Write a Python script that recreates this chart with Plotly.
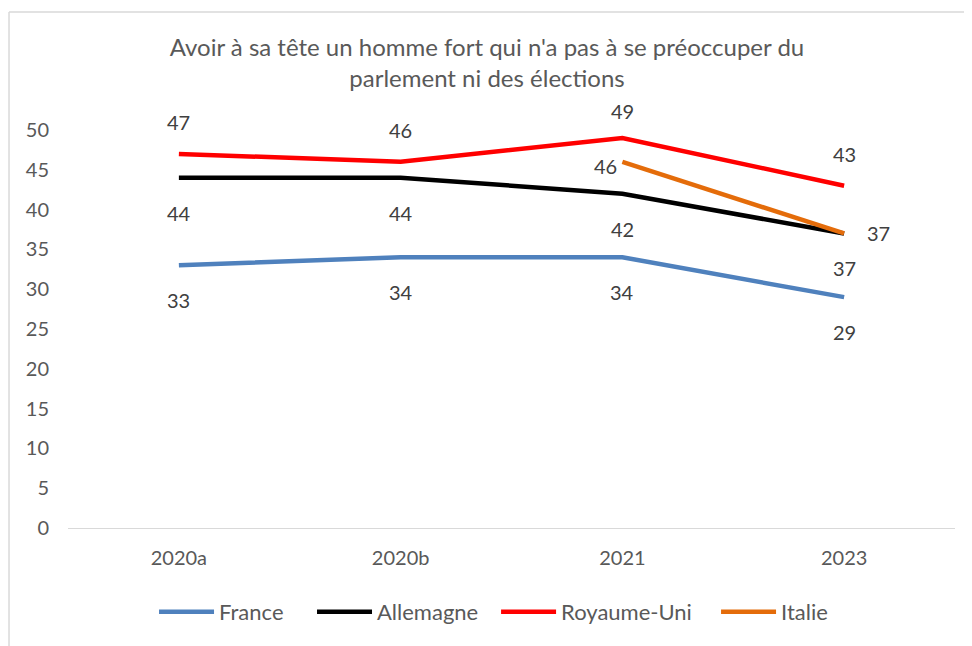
import plotly.graph_objects as go

categories = ["2020a", "2020b", "2021", "2023"]
france = [33, 34, 34, 29]
allemagne = [44, 44, 42, 37]
royaume_uni = [47, 46, 49, 43]
italie = [None, None, 46, 37]
y_ticks = [0, 5, 10, 15, 20, 25, 30, 35, 40, 45, 50]

title_text = "Avoir à sa tête un homme fort qui n'a pas à se préoccuper du<br>parlement ni des élections"

FONT = "Lato, 'Noto Sans', sans-serif"
TXT = "#595959"

series = [
    ("France", france, "#4F81BD"),
    ("Allemagne", allemagne, "#000000"),
    ("Royaume-Uni", royaume_uni, "#FF0000"),
    ("Italie", italie, "#E46C0A"),
]
legend_ids = ["legend", "legend2", "legend3", "legend4"]
legend_x = [0.0970, 0.2751, 0.4826, 0.7306]

fig = go.Figure()
for (name, vals, col), lid in zip(series, legend_ids):
    fig.add_trace(go.Scatter(x=categories, y=vals, name=name, mode="lines",
                             line=dict(color=col, width=4.5), connectgaps=False,
                             legend=lid))

label_offsets = {
    "France": (0, -35),
    "Allemagne": (0, -35),
    "Royaume-Uni": (0, 32),
}
annotations = []
for name, vals, col in series:
    for i, v in enumerate(vals):
        if v is None:
            continue
        if name == "Italie":
            xs, ys = (-17, -4) if i == 2 else (34, 0)
        elif name == "Royaume-Uni" and i == 2:
            xs, ys = (0, 27)
        else:
            xs, ys = label_offsets[name]
        annotations.append(dict(x=i, y=v, xref="x", yref="y", text=str(v),
                                showarrow=False, xshift=xs, yshift=ys,
                                font=dict(family=FONT, size=20, color="#404040")))

legend_common = dict(orientation="h", xanchor="left", y=-0.211, yanchor="middle",
                     font=dict(size=22, color=TXT, family=FONT), itemwidth=55,
                     bgcolor="rgba(0,0,0,0)")

fig.update_layout(
    width=972, height=646,
    margin=dict(l=60, r=25, t=122, b=126),
    paper_bgcolor="white", plot_bgcolor="white",
    font=dict(family=FONT, color=TXT, size=20),
    title=dict(text=title_text, x=0.4928, xanchor="center", y=0.926, yanchor="middle",
               font=dict(family=FONT, size=24, color=TXT)),
    xaxis=dict(type="category", range=[-0.5, 3.5], showline=True, linecolor="#d9d9d9",
               linewidth=1, showgrid=False, ticks="", ticklabelstandoff=12,
               tickfont=dict(size=20, color=TXT)),
    yaxis=dict(range=[0, 50], tickvals=y_ticks, showgrid=False, zeroline=False,
               showline=False, ticks="", ticklabelstandoff=18,
               tickfont=dict(size=20, color=TXT)),
    legend=dict(x=legend_x[0], **legend_common),
    legend2=dict(x=legend_x[1], **legend_common),
    legend3=dict(x=legend_x[2], **legend_common),
    legend4=dict(x=legend_x[3], **legend_common),
    annotations=annotations,
    showlegend=True,
)

# chart frame (top and left edges visible)
fig.add_shape(type="line", xref="paper", yref="paper", x0=-0.0665, x1=1.05, y0=1.2965, y1=1.2965,
              line=dict(color="#d9d9d9", width=1.5))
fig.add_shape(type="line", xref="paper", yref="paper", x0=-0.0665, x1=-0.0665, y0=1.2965, y1=-0.35,
              line=dict(color="#d9d9d9", width=1.5))

fig.write_html("out.html")
